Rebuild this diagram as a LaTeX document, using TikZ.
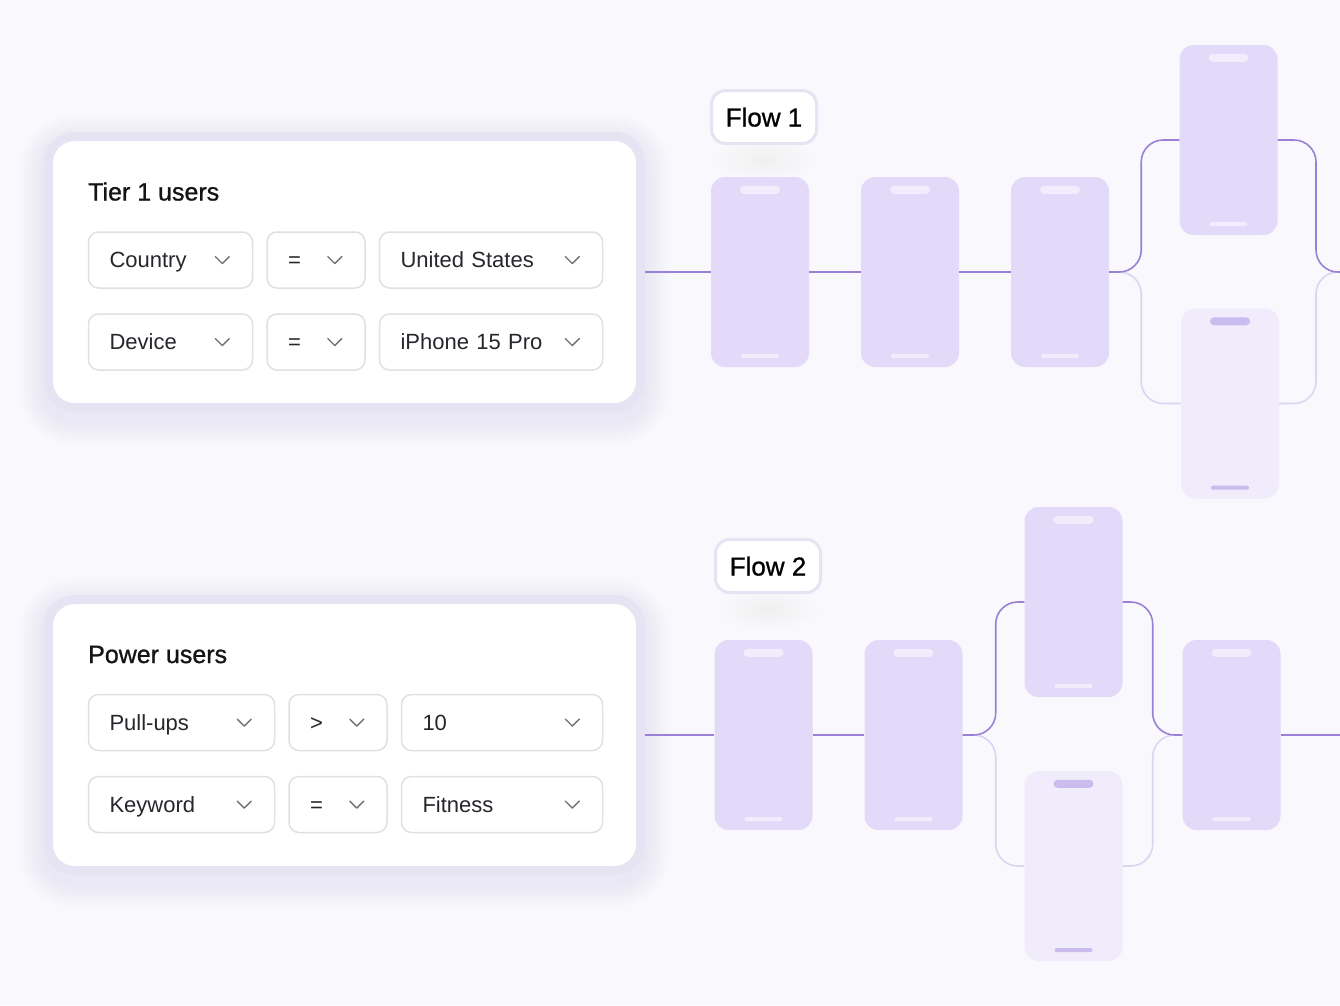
\documentclass[tikz,border=0pt]{standalone}
\usepackage{fontspec}
\setmainfont{Liberation Sans}
\newfontfamily\mediumfont{Liberation Sans}[FakeBold=0.9]
\usetikzlibrary{calc,positioning}

\definecolor{bgcol}{RGB}{249,248,252}
\definecolor{cardedge}{RGB}{230,228,242}
\definecolor{shadecol}{RGB}{190,184,225}
\definecolor{ddedge}{RGB}{224,224,229}
\definecolor{ddtext}{RGB}{38,38,44}
\definecolor{chevcol}{RGB}{112,112,118}
\definecolor{phonefill}{RGB}{227,218,250}
\definecolor{phonefaint}{RGB}{240,236,252}
\definecolor{pilllight}{RGB}{241,237,253}
\definecolor{pilldark}{RGB}{203,188,240}
\definecolor{linedark}{RGB}{155,128,216}
\definecolor{linefaint}{RGB}{221,212,242}

\newcommand{\chevron}[1]{\draw[chev] ($(#1.east)+(-38,-3.5)$) -- ++(7,7) -- ++(7,-7);}

\begin{document}
\begin{tikzpicture}[x=1pt, y=-1pt]
    \tikzset{
        card/.style = {rectangle, rounded corners=26pt, draw=cardedge, line width=9pt,
                       fill=white, minimum width=592pt, minimum height=271pt},
        ddbox/.style = {rectangle, rounded corners=10pt, draw=ddedge, line width=1.5pt,
                        fill=white, minimum height=56pt, inner xsep=21pt, inner ysep=0pt,
                        text width=#1, align=left, text height=20pt, text depth=5pt,
                        font=\fontsize{22pt}{26pt}\selectfont, text=ddtext},
        cardtitle/.style = {inner sep=0pt, font=\mediumfont\fontsize{25pt}{30pt}\selectfont, text=black!92},
        flowtag/.style = {rectangle, rounded corners=14pt, draw=cardedge, line width=3pt,
                          fill=white, minimum width=105pt, minimum height=53pt, inner sep=0pt,
                          text height=19pt, text depth=0pt,
                          font=\mediumfont\fontsize{26pt}{30pt}\selectfont},
        phone/.style = {rectangle, rounded corners=14pt, fill=phonefill,
                        minimum width=98pt, minimum height=190pt, inner sep=0pt},
        phonelt/.style = {phone, fill=phonefaint},
        chev/.style = {draw=chevcol, line width=1.4pt, line cap=round, line join=round},
        flowline/.style = {draw=linedark, line width=1.6pt, rounded corners=22pt},
        flowfaint/.style = {draw=linefaint, line width=1.6pt, rounded corners=22pt}
    }

    % background
    \fill[bgcol] (0,0) rectangle (1340,1005);
    \useasboundingbox (0,0) rectangle (1340,1005);

    % soft shadows under the cards
    \foreach \cy in {272,735} {
        \foreach \s in {3,6,...,24} {
            \fill[shadecol, opacity=0.022, rounded corners=30pt+\s]
                (44-\s,\cy-140-\s+8) rectangle (645+\s,\cy+140+\s+8);
        }
    }
    % glow under the flow tags
    \shade[inner color=black!6, outer color=bgcol] (764,160) ellipse (52pt and 22pt);
    \shade[inner color=black!6, outer color=bgcol] (768,609) ellipse (52pt and 22pt);

    % ---- card 1
    \node [card] (card1) at (344.5,272) {};
    \node [cardtitle, anchor=base west] (ttl1) at (88,200.5) {Tier 1 users};
    \node [ddbox=122pt] (cty) at (170.5,260) {Country};
    \node [ddbox=56pt, right=13pt of cty] (op1) {=};
    \node [ddbox=181pt, right=13pt of op1] (val1) {United States};
    \node [ddbox=122pt] (dev) at (170.5,342) {Device};
    \node [ddbox=56pt, right=13pt of dev] (op2) {=};
    \node [ddbox=181pt, right=13pt of op2] (val2) {iPhone 15 Pro};

    % ---- card 2
    \node [card] (card2) at (344.5,735) {};
    \node [cardtitle, anchor=base west] (ttl2) at (88,663) {Power users};
    \node [ddbox=144pt] (pull) at (181.5,722.5) {Pull-ups};
    \node [ddbox=56pt, right=13pt of pull] (op3) {>};
    \node [ddbox=159pt, right=13pt of op3] (val3) {10};
    \node [ddbox=144pt] (kw) at (181.5,804.5) {Keyword};
    \node [ddbox=56pt, right=13pt of kw] (op4) {=};
    \node [ddbox=159pt, right=13pt of op4] (val4) {Fitness};

    \foreach \b in {cty,op1,val1,dev,op2,val2,pull,op3,val3,kw,op4,val4} {\chevron{\b}}

    % ---- flow 1
    \node [flowtag] (tag1) at (764,117) {Flow 1};
    \node [phone] (f1a) at (760,272) {};
    \node [phone] (f1b) at (910,272) {};
    \node [phone] (f1c) at (1060,272) {};
    \node [phone] (f1d) at (1228.5,140) {};
    \node [phonelt] (f1e) at (1230,403.5) {};
    \coordinate (f1join) at (1316,272);
    \coordinate (f1out) at (1341,272);

    \draw [flowfaint] (f1c.east) -- ++(32,0) |- (f1e.west);
    \draw [flowfaint] (f1e.east) -| (f1join) -- (f1out);
    \draw [flowline] (card1.east) -- (f1a.west);
    \draw [flowline] (f1a.east) -- (f1b.west);
    \draw [flowline] (f1b.east) -- (f1c.west);
    \draw [flowline] (f1c.east) -- ++(32,0) |- (f1d.west);
    \draw [flowline] (f1d.east) -| (f1join) -- (f1out);

    % ---- flow 2
    \node [flowtag] (tag2) at (768,566) {Flow 2};
    \node [phone] (f2a) at (763.5,735) {};
    \node [phone] (f2b) at (913.5,735) {};
    \node [phone] (f2c) at (1073.5,602) {};
    \node [phonelt] (f2d) at (1073.5,866) {};
    \node [phone] (f2e) at (1231.5,735) {};
    \coordinate (f2out) at (1341,735);

    \draw [flowfaint] (f2b.east) -- ++(33,0) |- (f2d.west);
    \draw [flowfaint] (f2d.east) -- ++(30,0) |- (f2e.west);
    \draw [flowline] (card2.east) -- (f2a.west);
    \draw [flowline] (f2a.east) -- (f2b.west);
    \draw [flowline] (f2b.east) -- ++(33,0) |- (f2c.west);
    \draw [flowline] (f2c.east) -- ++(30,0) |- (f2e.west);
    \draw [flowline] (f2e.east) -- (f2out);

    % speaker and home bars
    \foreach \p in {f1a,f1b,f1c,f1d,f2a,f2b,f2c,f2e} {
        \fill [pilllight, rounded corners=4pt] ($(\p.north)+(-20,9)$) rectangle ($(\p.north)+(20,17)$);
        \fill [pilllight, rounded corners=2pt] ($(\p.south)+(-19,-13)$) rectangle ($(\p.south)+(19,-9)$);
    }
    \foreach \p in {f1e,f2d} {
        \fill [pilldark, rounded corners=4pt] ($(\p.north)+(-20,9)$) rectangle ($(\p.north)+(20,17)$);
        \fill [pilldark, rounded corners=2pt] ($(\p.south)+(-19,-13)$) rectangle ($(\p.south)+(19,-9)$);
    }
\end{tikzpicture}
\end{document}
